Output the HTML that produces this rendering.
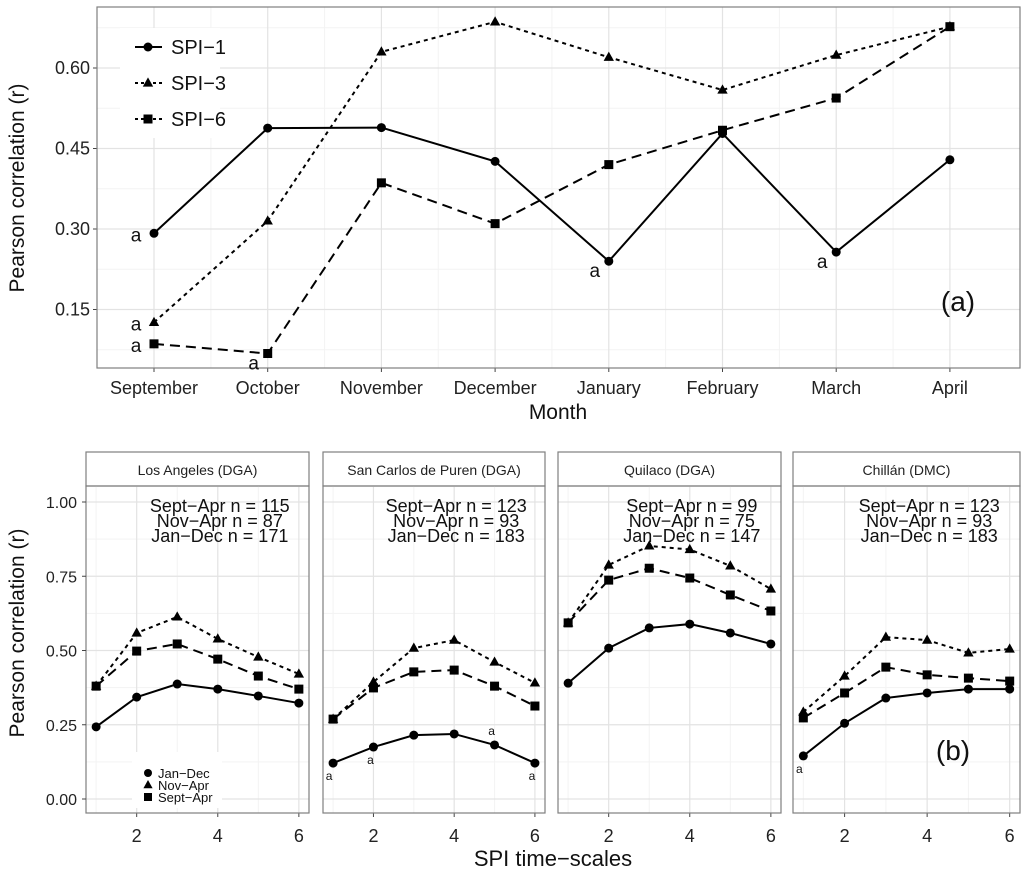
<!DOCTYPE html>
<html><head><meta charset="utf-8"><style>
body{margin:0;background:#fff;}
svg{display:block;font-family:"Liberation Sans",sans-serif;}
</style></head><body>
<svg id="chart" width="1024" height="877" viewBox="0 0 1024 877" xmlns="http://www.w3.org/2000/svg"></svg>
<script>
// ---- Panel (a) data ----
const months = ["September","October","November","December","January","February","March","April"];
const spi1 = [0.292,0.488,0.489,0.426,0.240,0.478,0.257,0.429];
const spi3 = [0.126,0.315,0.630,0.686,0.620,0.559,0.624,0.677];
const spi6 = [0.086,0.068,0.386,0.310,0.420,0.484,0.544,0.677];
const topTicks = [0.15,0.30,0.45,0.60];
const topAnnot = [["spi1",0],["spi3",0],["spi6",0],["spi6",1],["spi1",4],["spi1",6]];

// ---- Panel (b) data ----
const stations = ["Los Angeles (DGA)","San Carlos de Puren (DGA)","Quilaco (DGA)","Chillán (DMC)"];
const scales = [1,2,3,4,5,6];
const janDec = [[0.243,0.343,0.387,0.370,0.347,0.323],[0.121,0.175,0.215,0.219,0.182,0.121],[0.390,0.508,0.576,0.589,0.559,0.522],[0.145,0.255,0.340,0.357,0.370,0.370]];
const novApr = [[0.380,0.559,0.613,0.539,0.478,0.421],[0.269,0.394,0.508,0.535,0.461,0.391],[0.593,0.788,0.852,0.840,0.785,0.707],[0.293,0.414,0.545,0.535,0.492,0.505]];
const septApr = [[0.380,0.498,0.522,0.471,0.414,0.370],[0.269,0.374,0.428,0.434,0.380,0.313],[0.593,0.737,0.777,0.744,0.687,0.633],[0.273,0.357,0.444,0.418,0.407,0.397]];
const nSept = [115,123,99,123];
const nNov = [87,93,75,93];
const nJan = [171,183,147,183];
const botTicks = [0.00,0.25,0.50,0.75,1.00];
const xTicks = [2,4,6];
const botAnnot = [[1,0],[1,1],[1,4],[1,5],[3,0]];

const svg=document.getElementById('chart');
const NS="http://www.w3.org/2000/svg";
function el(tag,attrs,parent){const e=document.createElementNS(NS,tag);for(const k in attrs)e.setAttribute(k,attrs[k]);(parent||svg).appendChild(e);return e;}
function txt(s,attrs,parent){const e=el('text',attrs,parent);e.textContent=s;return e;}
function marker(shape,x,y,r,g){
  if(shape==='circle') return el('circle',{cx:x,cy:y,r:r,fill:'#000'},g);
  if(shape==='tri') return el('polygon',{points:`${x},${y-r*1.25} ${x-r*1.15},${y+r*0.8} ${x+r*1.15},${y+r*0.8}`,fill:'#000'},g);
  return el('rect',{x:x-r,y:y-r,width:2*r,height:2*r,fill:'#000'},g);
}

// ===== Panel (a) =====
const A={l:97,r:1020,t:7,b:368};
const ax=i=>154+i*113.7;
const ay=v=>68+(0.60-v)/0.15*80.5;
const ga=el('g',{});


el('rect',{x:A.l,y:A.t,width:A.r-A.l,height:A.b-A.t,fill:'#fff'},ga);
for(let v=0.075;v<0.7;v+=0.15){const y=ay(v);if(y>A.t&&y<A.b)el('line',{x1:A.l,x2:A.r,y1:y,y2:y,stroke:'#f3f3f3','stroke-width':1},ga);}
for(let i=0;i<months.length-1;i++){const x=(ax(i)+ax(i+1))/2;el('line',{x1:x,x2:x,y1:A.t,y2:A.b,stroke:'#f3f3f3'},ga);}
topTicks.forEach(v=>{const y=ay(v);el('line',{x1:A.l,x2:A.r,y1:y,y2:y,stroke:'#e3e3e3','stroke-width':1.2},ga);
 const t=txt(v.toFixed(2),{x:90,y:y+6,'font-size':18,'text-anchor':'end',fill:'#222'},ga);
 el('line',{x1:A.l-4,x2:A.l,y1:y,y2:y,stroke:'#444'},ga);});
months.forEach((m,i)=>{const x=ax(i);el('line',{x1:x,x2:x,y1:A.t,y2:A.b,stroke:'#e3e3e3','stroke-width':1.2},ga);
 el('line',{x1:x,x2:x,y1:A.b,y2:A.b+4,stroke:'#444'},ga);
 const t=txt(m,{x:x,y:394,'font-size':18,'text-anchor':'middle',fill:'#222'},ga);});
el('rect',{x:A.l,y:A.t,width:A.r-A.l,height:A.b-A.t,fill:'none',stroke:'#7f7f7f','stroke-width':1.2},ga);
const series=[{id:'spi1',d:spi1,dash:'',sh:'circle'},{id:'spi3',d:spi3,dash:'4,4',sh:'tri'},{id:'spi6',d:spi6,dash:'10,6',sh:'square'}];
series.forEach(s=>{
 const g=el('g',{},ga);
 el('polyline',{points:s.d.map((v,i)=>ax(i)+','+ay(v)).join(' '),fill:'none',stroke:'#000','stroke-width':2,'stroke-dasharray':s.dash},g);
 s.d.forEach((v,i)=>{const m=marker(s.sh,ax(i),ay(v),4.5,g);});
});
const sd={spi1,spi3,spi6};
topAnnot.forEach(([s,i])=>{const v=sd[s][i];const below=(i>0);
 const t=txt('a',{x:ax(i)-(below?14:18),y:ay(v)+(below?16:8),'font-size':19,'text-anchor':'middle',fill:'#111'},ga);});
// legend
const lg=el('g',{},ga);
el('rect',{x:120,y:28,width:100,height:110,fill:'#fff'},lg);
series.forEach((s,k)=>{const y=47+k*36;
 el('line',{x1:135,x2:162,y1:y,y2:y,stroke:'#000','stroke-width':2,'stroke-dasharray':s.dash?'3,3':''},lg);
 marker(s.sh,148,y,4.5,lg);
 const t=txt(s.id.replace('spi','SPI−'),{x:171,y:y+7,'font-size':20,fill:'#111'},lg);});
let t=txt('(a)',{x:958,y:311,'font-size':28,'text-anchor':'middle',fill:'#111'},ga);
t=txt('Month',{x:558,y:419,'font-size':21,'text-anchor':'middle',fill:'#111'});
t=txt('Pearson correlation (r)',{x:0,y:0,'font-size':21,'text-anchor':'middle',fill:'#111',transform:'translate(24,188) rotate(-90)'});

// ===== Panel (b) =====
const lefts=[86,323,558,793], rights=[309,545,781,1020];
const PT=486,PB=813,ST=452;
const by=v=>799-v*297;
stations.forEach((name,p)=>{
 const L=lefts[p],R=rights[p];const u=(R-L)/5.5;
 const bx=x=>L+(x-0.75)*u;
 const g=el('g',{});
 el('rect',{x:L,y:ST,width:R-L,height:PT-ST,fill:'#fff',stroke:'#7f7f7f','stroke-width':1.2},g);
 const st=txt(name,{x:(L+R)/2,y:475,'font-size':14,'text-anchor':'middle',fill:'#222'},g);
 for(let v=0.125;v<1.1;v+=0.25)el('line',{x1:L,x2:R,y1:by(v),y2:by(v),stroke:'#f3f3f3'},g);
 [1,3,5].forEach(x=>el('line',{x1:bx(x),x2:bx(x),y1:PT,y2:PB,stroke:'#f3f3f3'},g));
 botTicks.forEach(v=>el('line',{x1:L,x2:R,y1:by(v),y2:by(v),stroke:'#e3e3e3','stroke-width':1.2},g));
 xTicks.forEach(x=>{el('line',{x1:bx(x),x2:bx(x),y1:PT,y2:PB,stroke:'#e3e3e3','stroke-width':1.2},g);
  el('line',{x1:bx(x),x2:bx(x),y1:PB,y2:PB+4,stroke:'#444'},g);
  const tl=txt(String(x),{x:bx(x),y:842,'font-size':18,'text-anchor':'middle',fill:'#222'},g);});
 el('rect',{x:L,y:PT,width:R-L,height:PB-PT,fill:'none',stroke:'#7f7f7f','stroke-width':1.2},g);
 const ser=[{n:'jan-dec',d:janDec[p],dash:'',sh:'circle'},{n:'nov-apr',d:novApr[p],dash:'4,4',sh:'tri'},{n:'sept-apr',d:septApr[p],dash:'10,6',sh:'square'}];
 ser.forEach(s=>{const sg=el('g',{},g);
  el('polyline',{points:s.d.map((v,i)=>bx(scales[i])+','+by(v)).join(' '),fill:'none',stroke:'#000','stroke-width':2,'stroke-dasharray':s.dash},sg);
  s.d.forEach((v,i)=>{const m=marker(s.sh,bx(scales[i]),by(v),4.5,sg);});});
 const cx=L+(R-L)*0.6;
 [["Sept−Apr n = "+nSept[p],512],["Nov−Apr n = "+nNov[p],527],["Jan−Dec n = "+nJan[p],542]].forEach(([s,y])=>{
  const a=txt(s,{x:cx,y:y,'font-size':18,'text-anchor':'middle',fill:'#111'},g);});
 if(p===0){
  botTicks.forEach(v=>{const tl=txt(v.toFixed(2),{x:77,y:by(v)+6,'font-size':16,'text-anchor':'end',fill:'#222'});
   el('line',{x1:L-4,x2:L,y1:by(v),y2:by(v),stroke:'#444'});});
  const lg2=el('g',{},g);
  el('rect',{x:132,y:752,width:90,height:56,fill:'#fff'},lg2);
  [['circle','Jan−Dec'],['tri','Nov−Apr'],['square','Sept−Apr']].forEach(([sh,l],k)=>{const y=774+k*12;
   marker(sh,148,y-1,4,lg2);const a=txt(l,{x:158,y:y+4,'font-size':13,fill:'#111'},lg2);});
 }
});
botAnnot.forEach(([p,i])=>{const L=lefts[p],R=rights[p];const u=(R-L)/5.5;const x=L+(scales[i]-0.75)*u;
 const v=janDec[p][i];const above=(p===1&&i===4);
 const a=txt('a',{x:x-(i===0?4:3),y:above?by(v)-10:by(v)+17,'font-size':12,'text-anchor':'middle',fill:'#111'});});
t=txt('(b)',{x:953,y:760,'font-size':28,'text-anchor':'middle',fill:'#111'});
t=txt('SPI time−scales',{x:553,y:866,'font-size':22,'text-anchor':'middle',fill:'#111'});
t=txt('Pearson correlation (r)',{x:0,y:0,'font-size':21,'text-anchor':'middle',fill:'#111',transform:'translate(24,633) rotate(-90)'});
</script>
</body></html>
